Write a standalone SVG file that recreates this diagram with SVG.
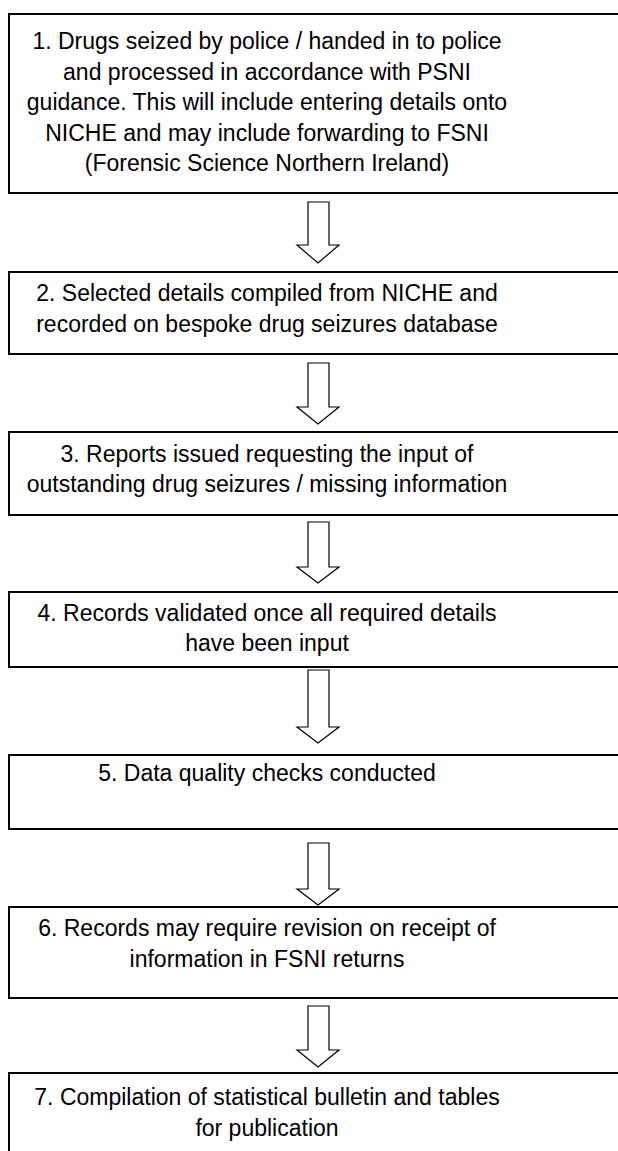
<svg xmlns="http://www.w3.org/2000/svg" width="618" height="1151" viewBox="0 0 618 1151">
<defs>
<style>
.box{fill:#fff;stroke:#000;stroke-width:2}
.t{font-family:"Liberation Sans",Arial,sans-serif;font-size:23px;fill:#000;text-anchor:middle}
.arr{fill:#fff;stroke:#000;stroke-width:1.2;stroke-linejoin:miter}
</style>
</defs>
<rect width="618" height="1151" fill="#fff"/>
<g id="connectors">
<path class="arr" d="M308,202 H329 V245 H339 L318,263 L297,245 H308 Z"/>
<path class="arr" d="M308,363 H329 V407 H339 L318,424 L297,407 H308 Z"/>
<path class="arr" d="M308,522 H329 V567 H339 L318,583 L297,567 H308 Z"/>
<path class="arr" d="M308,670 H329 V727 H339 L318,743 L297,727 H308 Z"/>
<path class="arr" d="M308,843 H329 V889 H339 L318,905 L297,889 H308 Z"/>
<path class="arr" d="M308,1006 H329 V1050 H339 L318,1067 L297,1050 H308 Z"/>
</g>
<g id="node1">
<rect class="box" x="9" y="14" width="620" height="179"/>
<text class="t" x="267" y="49">1. Drugs seized by police / handed in to police</text>
<text class="t" x="267" y="79.5">and processed in accordance with PSNI</text>
<text class="t" x="267" y="110">guidance. This will include entering details onto</text>
<text class="t" x="267" y="140.5">NICHE and may include forwarding to FSNI</text>
<text class="t" x="267" y="171">(Forensic Science Northern Ireland)</text>
</g>
<g id="node2">
<rect class="box" x="9" y="272" width="620" height="82"/>
<text class="t" x="267" y="301">2. Selected details compiled from NICHE and</text>
<text class="t" x="267" y="332">recorded on bespoke drug seizures database</text>
</g>
<g id="node3">
<rect class="box" x="9" y="432" width="620" height="83"/>
<text class="t" x="267" y="462">3. Reports issued requesting the input of</text>
<text class="t" x="267" y="492">outstanding drug seizures / missing information</text>
</g>
<g id="node4">
<rect class="box" x="9" y="592" width="620" height="75"/>
<text class="t" x="267" y="621">4. Records validated once all required details</text>
<text class="t" x="267" y="651">have been input</text>
</g>
<g id="node5">
<rect class="box" x="9" y="755" width="620" height="74"/>
<text class="t" x="267" y="781">5. Data quality checks conducted</text>
</g>
<g id="node6">
<rect class="box" x="9" y="907" width="620" height="91"/>
<text class="t" x="267" y="936">6. Records may require revision on receipt of</text>
<text class="t" x="267" y="967">information in FSNI returns</text>
</g>
<g id="node7">
<rect class="box" x="9" y="1073" width="620" height="100"/>
<text class="t" x="267" y="1105">7. Compilation of statistical bulletin and tables</text>
<text class="t" x="267" y="1136">for publication</text>
</g>
</svg>
